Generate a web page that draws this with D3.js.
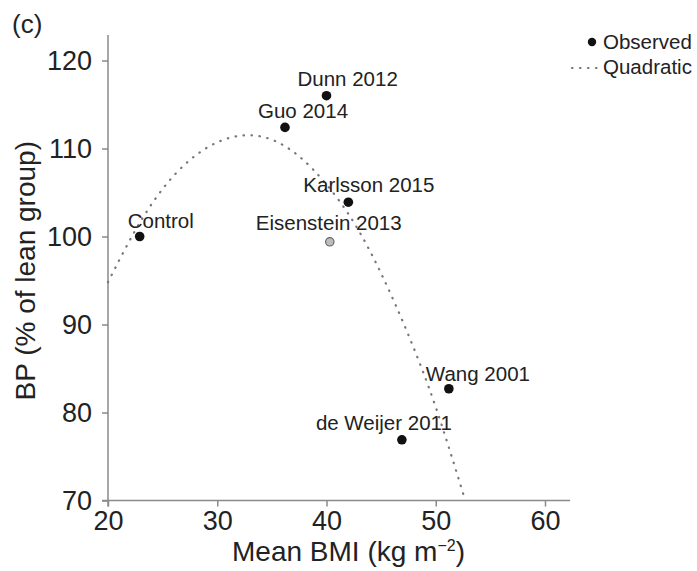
<!DOCTYPE html>
<html>
<head>
<meta charset="utf-8">
<script src="https://cdn.jsdelivr.net/npm/d3@7/dist/d3.min.js"></script>
<style>
  html, body { margin: 0; padding: 0; background: #fff; }
  svg { display: block; font-family: "Liberation Sans", Arial, Helvetica, sans-serif; }
</style>
</head>
<body>
<svg id="chart" width="697" height="571"></svg>
<script>
// ---- data ----
const studies   = ["Control", "Guo 2014", "Dunn 2012", "Karlsson 2015", "Eisenstein 2013", "Wang 2001", "de Weijer 2011"];
const bmiValues = [22.9, 36.2, 40.0, 42.0, 40.3, 51.2, 46.9];
const bpValues  = [100.0, 112.4, 116.0, 103.9, 99.4, 82.7, 76.9];
const observedFlag = [true, true, true, true, false, true, true]; // Eisenstein shown in grey
// quadratic fit curve
const fitX = [20, 22.5, 25, 27.5, 30, 32.5, 35, 37.5, 40, 42.5, 45, 47.5, 50, 52.7];
const fitY = [94.8, 100.7, 105.4, 108.7, 110.7, 111.5, 111.0, 109.1, 105.9, 101.6, 95.8, 88.8, 80.6, 70.0];
const xTicks = [20, 30, 40, 50, 60];
const yTicks = [70, 80, 90, 100, 110, 120];
const legendLabels = ["Observed", "Quadratic"];

// ---- layout ----
const labelOffsets = {
  "Control": [-12, -9], "Guo 2014": [-27, -9], "Dunn 2012": [-29, -10],
  "Karlsson 2015": [-45, -10], "Eisenstein 2013": [-74, -12],
  "Wang 2001": [-23, -8], "de Weijer 2011": [-86, -10]
};

const svg = d3.select("#chart");
const x = d3.scaleLinear().domain([20, 60]).range([108, 545]);
const y = d3.scaleLinear().domain([70, 120]).range([500.5, 60.5]);
const xEnd = 62.3, yEnd = 122.9;
const axisColor = "#8a8a8a";
const textColor = "#222";
const tickFont = 27;

// axes
const xAxis = svg.append("g").attr("transform", `translate(0,${y(70)})`)
  .call(d3.axisBottom(x).tickValues(xTicks).tickSize(6).tickPadding(4).tickSizeOuter(0));
xAxis.select(".domain").remove();
xAxis.append("line").attr("x1", x(20) - 6).attr("x2", x(xEnd)).attr("stroke", axisColor).attr("stroke-width", 1.5);
xAxis.selectAll(".tick line").attr("stroke", axisColor).attr("stroke-width", 1.5);
xAxis.selectAll(".tick text").attr("font-size", tickFont).attr("fill", textColor)
  .style("font-family", "Liberation Sans, Arial, sans-serif");

const yAxis = svg.append("g").attr("transform", `translate(${x(20)},0)`)
  .call(d3.axisLeft(y).tickValues(yTicks).tickSize(6).tickPadding(10).tickSizeOuter(0));
yAxis.select(".domain").remove();
yAxis.append("line").attr("y1", y(yEnd)).attr("y2", y(70) + 6).attr("stroke", axisColor).attr("stroke-width", 1.5);
yAxis.selectAll(".tick line").attr("stroke", axisColor).attr("stroke-width", 1.5);
yAxis.selectAll(".tick text").attr("font-size", tickFont).attr("fill", textColor)
  .style("font-family", "Liberation Sans, Arial, sans-serif");

// quadratic curve
const fitPts = fitX.map((v, i) => [v, fitY[i]]);
svg.append("path")
  .datum(fitPts)
  .attr("d", d3.line().x(d => x(d[0])).y(d => y(d[1])).curve(d3.curveNatural))
  .attr("fill", "none")
  .attr("stroke", "#777")
  .attr("stroke-width", 2.2)
  .attr("stroke-linecap", "round")
  .attr("stroke-dasharray", "0.5,7.5");

// points
const pts = studies.map((s, i) => ({ name: s, bmi: bmiValues[i], bp: bpValues[i], obs: observedFlag[i] }));
svg.append("g").selectAll("circle").data(pts).join("circle")
  .attr("cx", d => x(d.bmi)).attr("cy", d => y(d.bp))
  .attr("r", d => d.obs ? 4.8 : 4.2)
  .attr("fill", d => d.obs ? "#111" : "#bdbdbd")
  .attr("stroke", d => d.obs ? "#111" : "#666")
  .attr("stroke-width", d => d.obs ? 0 : 1.2);

svg.append("g").selectAll("text").data(pts).join("text")
  .attr("x", d => x(d.bmi) + labelOffsets[d.name][0])
  .attr("y", d => y(d.bp) + labelOffsets[d.name][1])
  .attr("font-size", 20.5).attr("fill", textColor)
  .text(d => d.name);

// axis titles
const xt = svg.append("text").attr("x", x(40) + 22).attr("y", 561)
  .attr("text-anchor", "middle").attr("font-size", 28).attr("fill", textColor);
xt.append("tspan").text("Mean BMI (kg m");
xt.append("tspan").attr("font-size", 16).attr("dy", -10).text("\u22122");
xt.append("tspan").attr("dy", 10).text(")");

svg.append("text")
  .attr("transform", `translate(35,${(y(yEnd) + y(70)) / 2 + 3}) rotate(-90)`)
  .attr("text-anchor", "middle").attr("font-size", 28).attr("fill", textColor)
  .text("BP (% of lean group)");

// panel letter
svg.append("text").attr("x", 12).attr("y", 33).attr("font-size", 26).attr("fill", textColor).text("(c)");

// legend
const lg = svg.append("g");
lg.append("circle").attr("cx", 592).attr("cy", 42).attr("r", 4.2).attr("fill", "#111");
lg.append("line").attr("x1", 572).attr("x2", 598).attr("y1", 68).attr("y2", 68)
  .attr("stroke", "#777").attr("stroke-width", 2.2).attr("stroke-linecap", "round").attr("stroke-dasharray", "0.5,7.5");
lg.selectAll("text.lg").data(legendLabels).join("text")
  .attr("class", "lg")
  .attr("x", 603).attr("y", (d, i) => 49 + i * 25)
  .attr("font-size", 20.5).attr("fill", textColor)
  .text(d => d);
</script>
</body>
</html>
